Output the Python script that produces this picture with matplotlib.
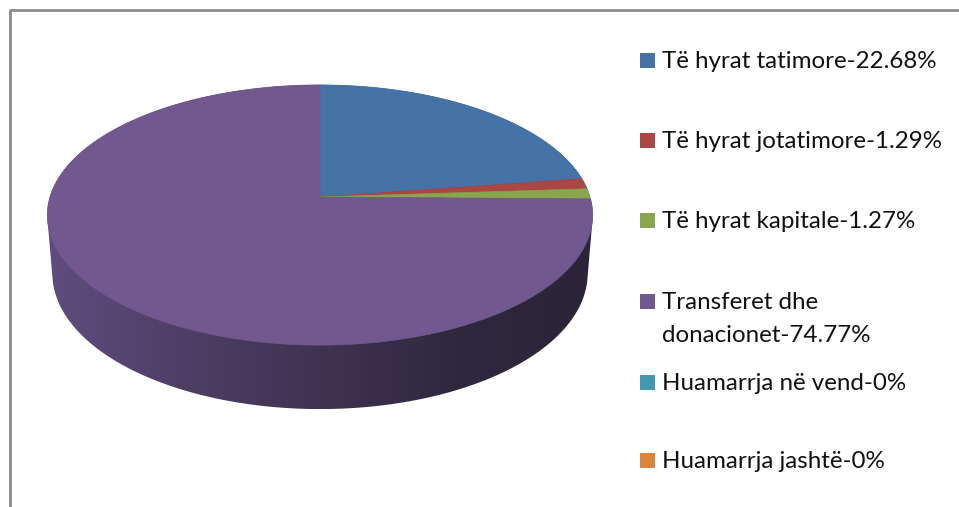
import numpy as np
import matplotlib
matplotlib.use("Agg")
import matplotlib.pyplot as plt
from matplotlib.patches import Polygon, Rectangle
from matplotlib.colors import LinearSegmentedColormap

# te dhenat
labels = ["Të hyrat tatimore-22.68%", "Të hyrat jotatimore-1.29%", "Të hyrat kapitale-1.27%",
          "Transferet dhe\ndonacionet-74.77%", "Huamarrja në vend-0%", "Huamarrja jashtë-0%"]
values = [22.68, 1.29, 1.27, 74.77, 0.0, 0.0]
colors = ["#4572A7", "#AA4643", "#89A54E", "#71588F", "#4198AF", "#DB843D"]

# parametrat e projeksionit (pamje 3D me perspektive)
cx, cy = 320, 197
alpha = np.radians(28.2)
f, D, h = 1719.0, 6.366, 0.248


def proj(X, Y, Z):
    depth = D + Y * np.cos(alpha) - Z * np.sin(alpha)
    sx = cx + f * X / depth
    sy = cy - f * (Y * np.sin(alpha) + Z * np.cos(alpha)) / depth
    return sx, sy


def hull(pts):
    pts = sorted(set(map(tuple, np.round(pts, 3))))
    def cross(o, a, b):
        return (a[0] - o[0]) * (b[1] - o[1]) - (a[1] - o[1]) * (b[0] - o[0])
    lower, upper = [], []
    for p in pts:
        while len(lower) >= 2 and cross(lower[-2], lower[-1], p) <= 0:
            lower.pop()
        lower.append(p)
    for p in reversed(pts):
        while len(upper) >= 2 and cross(upper[-2], upper[-1], p) <= 0:
            upper.pop()
        upper.append(p)
    return np.array(lower[:-1] + upper[:-1])


fig = plt.figure(figsize=(9.59, 5.07), dpi=100)
ax = fig.add_axes([0, 0, 1, 1])
ax.set_xlim(0, 959)
ax.set_ylim(507, 0)
ax.axis("off")

# korniza
ax.plot([10, 10, 959], [507, 9.5, 9.5], color="#8c8c8c", lw=2, solid_capstyle="butt")

# ana anesore me gradient
t = np.linspace(0, 2 * np.pi, 400)
tx, ty = proj(np.cos(t), np.sin(t), 0 * t)
bx, by = proj(np.cos(t), np.sin(t), -h + 0 * t)
side = hull(np.column_stack([np.r_[tx, bx], np.r_[ty, by]]))
clip = Polygon(side, closed=True, facecolor="none", edgecolor="none")
ax.add_patch(clip)
cmap = LinearSegmentedColormap.from_list(
    "side", [(0, "#5f4c7e"), (0.28, "#4c3d63"), (0.5, "#3f3352"), (0.75, "#30283f"), (1, "#2b2336")])
grad = np.linspace(0, 1, 256)[None, :]
im = ax.imshow(grad, cmap=cmap, extent=[side[:, 0].min(), side[:, 0].max(), side[:, 1].max(), side[:, 1].min()],
               aspect="auto", zorder=2)
im.set_clip_path(clip)
ax.set_xlim(0, 959)
ax.set_ylim(507, 0)

# faqja e siperme
start = 90.0
total = sum(values)
for v, c in zip(values, colors):
    if v <= 0:
        continue
    end = start - 360.0 * v / total
    a = np.radians(np.linspace(start, end, max(int(abs(start - end) * 2), 4)))
    px, py = proj(np.r_[0, np.cos(a)], np.r_[0, np.sin(a)], np.zeros(len(a) + 1))
    ax.add_patch(Polygon(np.column_stack([px, py]), closed=True, facecolor=c, edgecolor=c, lw=0.5, zorder=3))
    start = end

# legjenda (vijat baze te tekstit)
rows = [68, 148, 228, 309, 390, 468]
for lab, c, y in zip(labels, colors, rows):
    ax.add_patch(Rectangle((640, y - 15), 15, 15, facecolor=c, edgecolor="none", zorder=4))
    for i, line in enumerate(lab.split("\n")):
        ax.text(662, y + i * 33, line, fontsize=17.4, family="Lato", va="baseline", ha="left",
                color="#111111")

fig.savefig("out.png", dpi=100)
